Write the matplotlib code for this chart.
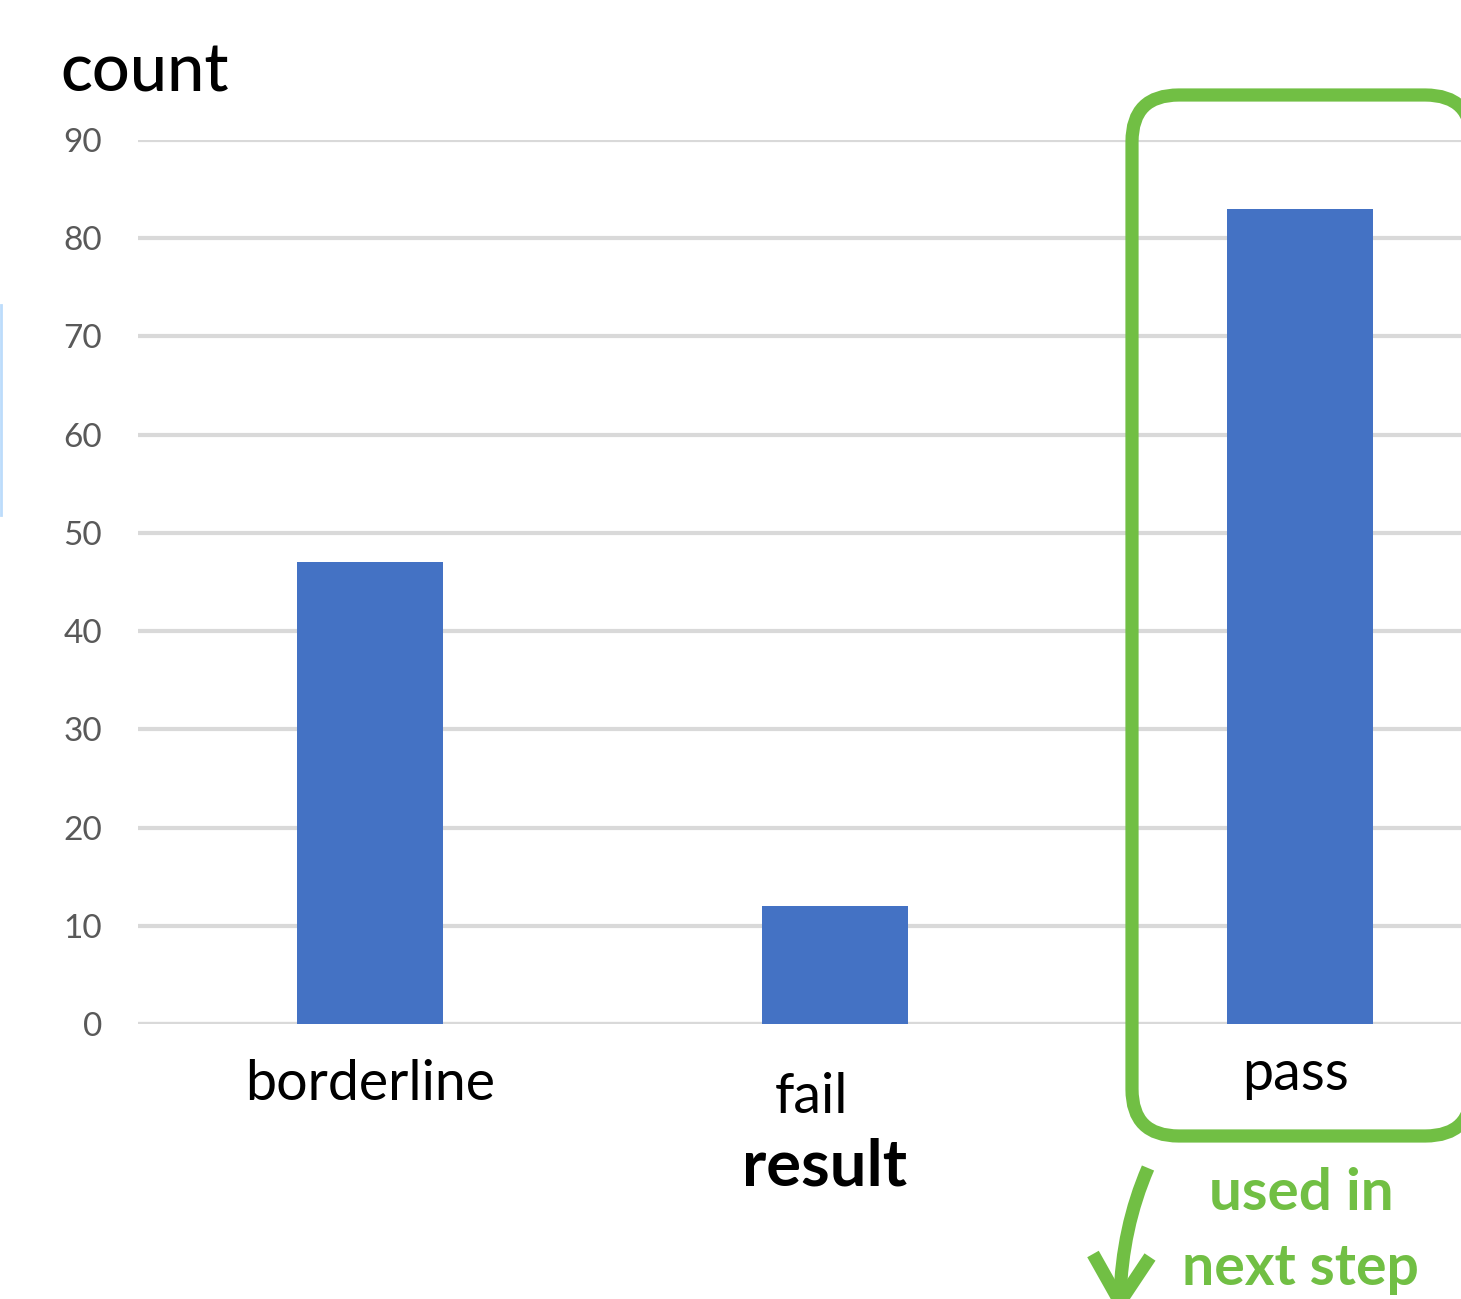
import matplotlib
matplotlib.use("Agg")
import matplotlib.pyplot as plt
from matplotlib.patches import FancyBboxPatch, PathPatch
from matplotlib.path import Path
from matplotlib.lines import Line2D

# data
categories = ["borderline", "fail", "pass"]
counts = [47, 12, 83]
yticks = [0, 10, 20, 30, 40, 50, 60, 70, 80, 90]

W, H = 1461, 1299
BLUE = "#4472c4"
GREEN = "#71bf44"
GRID = "#d9d9d9"

plt.rcParams["font.family"] = ["Lato", "DejaVu Sans"]

fig = plt.figure(figsize=(W / 100, H / 100), dpi=100)


def fx(x):
    return x / W


def fy(y):
    return 1 - y / H


# plot area in pixel terms: left 138, top 140 (90), bottom 1024 (0)
ax = fig.add_axes([fx(138), fy(1024), fx(W - 138), (1024 - 140) / H])
x = list(range(len(categories)))
ax.bar(x, counts, width=0.314, color=BLUE, zorder=3)
ax.set_xlim(-0.5, 2.346)
ax.set_ylim(0, 90)
ax.set_yticks(yticks)
ax.set_yticklabels([str(t) for t in yticks], fontsize=24, color="#595959")
ax.tick_params(axis="y", length=0, pad=26)
ax.set_xticks([])
ax.yaxis.grid(True, color=GRID, linewidth=3, zorder=0)
ax.set_axisbelow(True)
for s in ax.spines.values():
    s.set_visible(False)
ax.axhline(0, color=GRID, linewidth=3, zorder=1)

# category labels, each placed by hand under its bar
label_pos = {"borderline": (0.0, -7.7), "fail": (0.948, -9.1), "pass": (1.99, -6.7)}
for name in categories:
    lx, ly = label_pos[name]
    ax.text(lx, ly, name, ha="center", va="baseline", fontsize=40,
            fontweight="normal", color="black", clip_on=False)

# axis titles
fig.text(fx(60), fy(92), "count", ha="left", va="baseline", fontsize=48,
         fontweight="medium", color="black")
fig.text(fx(824), fy(1185), "result", ha="center", va="baseline", fontsize=47,
         fontweight="bold", color="black")

# green rounded box around the pass bar (right side runs off the edge).
# a barely-there face keeps agg from clipping the curved corners badly
box = FancyBboxPatch((fx(1132), fy(1136)), fx(1472 - 1132), (1136 - 95) / H,
                     boxstyle="round,pad=0,rounding_size=0.032",
                     transform=fig.transFigure,
                     facecolor=(1, 1, 1, 0.002),
                     edgecolor=GREEN, linewidth=9.5, zorder=5,
                     mutation_aspect=W / H)
fig.add_artist(box)

fig.text(fx(1301), fy(1210), "used in", ha="center", va="baseline",
         fontsize=42, fontweight="bold", color=GREEN)
fig.text(fx(1300), fy(1285), "next step", ha="center", va="baseline",
         fontsize=41, fontweight="bold", color=GREEN)

# curved arrow pointing down
shaft = Path([(fx(1148), fy(1168)), (fx(1122), fy(1228)), (fx(1120), fy(1298))],
             [Path.MOVETO, Path.CURVE3, Path.CURVE3])
fig.add_artist(PathPatch(shaft, transform=fig.transFigure, fill=False,
                         edgecolor=GREEN, linewidth=9.5, capstyle="butt"))
fig.add_artist(Line2D([fx(1093), fx(1120), fx(1150)],
                      [fy(1254), fy(1302), fy(1257)],
                      transform=fig.transFigure, color=GREEN, linewidth=9.5,
                      solid_joinstyle="miter", solid_capstyle="butt"))

# thin blue edge at far left
fig.add_artist(Line2D([fx(1), fx(1)], [fy(305), fy(515)],
                      transform=fig.transFigure, color="#bcdcfb", linewidth=2))

fig.savefig("out.png", dpi=100)
